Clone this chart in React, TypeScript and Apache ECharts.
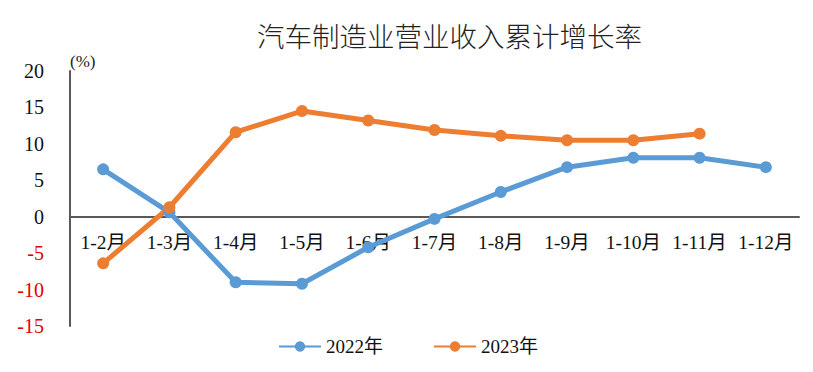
import React, { useEffect, useRef } from "react";
import * as echarts from "echarts";

const categories = ["1-2月", "1-3月", "1-4月", "1-5月", "1-6月", "1-7月", "1-8月", "1-9月", "1-10月", "1-11月", "1-12月"];
const series2022 = [6.5, 0.6, -9.0, -9.2, -4.2, -0.3, 3.4, 6.8, 8.1, 8.1, 6.8];
const series2023 = [-6.4, 1.3, 11.6, 14.5, 13.2, 11.9, 11.1, 10.5, 10.5, 11.4, null];
const titleText = "汽车制造业营业收入累计增长率";
const unitText = "(%)";
const yMin = -15;
const yMax = 20;
const yStep = 5;

const FONT = "Liberation Serif, Noto Sans CJK SC, serif";

const W = 813;
const H = 372;
const GRID = { left: 70, right: 14, top: 71, bottom: 46 };

export default function App() {
  const ref = useRef<HTMLDivElement>(null);
  useEffect(() => {
    const chart = echarts.init(ref.current!, null, { renderer: "svg" });
    const gridH = H - GRID.top - GRID.bottom;
    const zeroOffset = -(gridH * (0 - yMin)) / (yMax - yMin);
    chart.setOption({
      animation: false,
      backgroundColor: "#ffffff",
      title: {
        text: titleText,
        left: 252,
        top: 16,
        textStyle: { fontFamily: "Noto Sans CJK SC, sans-serif", fontSize: 27.5, fontWeight: 300, color: "#222" },
      },
      graphic: [
        {
          type: "text",
          left: 70,
          top: 53,
          style: { text: unitText, fontFamily: FONT, fontSize: 17, fill: "#222" },
        },
      ],
      legend: {
        bottom: 11,
        left: 273,
        itemWidth: 42,
        itemHeight: 13,
        itemGap: 50,
        textStyle: { fontFamily: FONT, fontSize: 19, color: "#111" },
        data: ["2022年", "2023年"],
      },
      grid: { ...GRID, containLabel: false },
      xAxis: {
        type: "category",
        data: categories,
        offset: zeroOffset,
        axisLine: { onZero: false, lineStyle: { color: "#595959", width: 2 } },
        axisTick: { show: false },
        axisLabel: { interval: 0, margin: 16, fontFamily: FONT, fontSize: 19.5, color: "#111" },
      },
      yAxis: {
        type: "value",
        min: yMin,
        max: yMax,
        interval: yStep,
        splitLine: { show: false },
        axisLine: { show: true, lineStyle: { color: "#595959", width: 2 } },
        axisTick: { show: false },
        axisLabel: {
          margin: 26,
          formatter: (v: number) => (v < 0 ? `{neg|${v}}` : `{pos|${v}}`),
          rich: {
            neg: { color: "#e00000", fontFamily: FONT, fontSize: 20 },
            pos: { color: "#111", fontFamily: FONT, fontSize: 20 },
          },
        },
      },
      series: [
        {
          name: "2022年",
          type: "line",
          data: series2022,
          symbol: "circle",
          symbolSize: 12,
          itemStyle: { color: "#5B9BD5" },
          lineStyle: { color: "#5B9BD5", width: 5 },
        },
        {
          name: "2023年",
          type: "line",
          data: series2023,
          symbol: "circle",
          symbolSize: 12,
          itemStyle: { color: "#ED7D31" },
          lineStyle: { color: "#ED7D31", width: 5 },
        },
      ],
    });
    return () => chart.dispose();
  }, []);
  return <div ref={ref} style={{ width: W, height: H, position: "absolute", left: 0, top: 0 }} />;
}
